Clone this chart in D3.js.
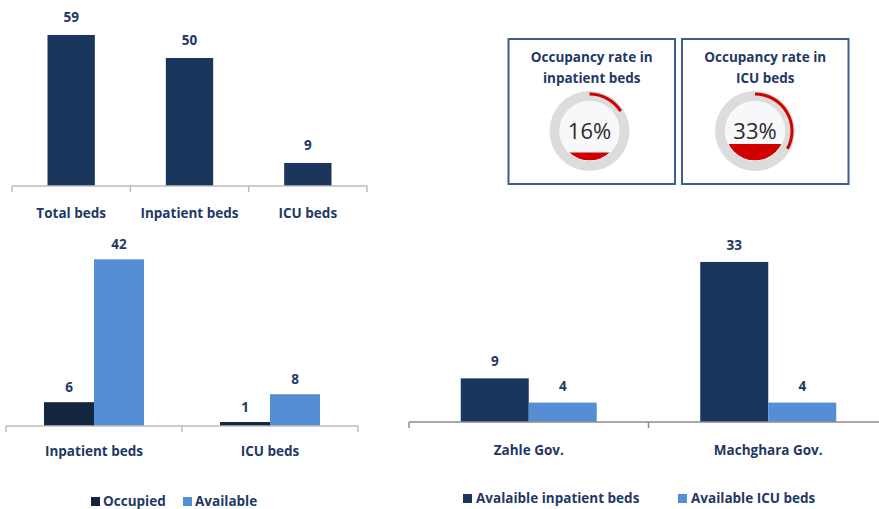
<!DOCTYPE html>
<html lang="en">
<head>
<meta charset="utf-8">
<title>Hospital beds</title>
<style>
  body { margin: 0; background: #fff; }
  text { font-family: "Open Sans", sans-serif; }
</style>
</head>
<body>
<div id="chart"></div>
<script src="https://cdn.jsdelivr.net/npm/d3@7"></script>
<script>
// ---- data ----
var bedCats = ["Total beds", "Inpatient beds", "ICU beds"];
var bedValues = [59, 50, 9];

var occCats = ["Inpatient beds", "ICU beds"];
var occSeries = ["Occupied", "Available"];
var occupiedValues = [6, 1];
var availableValues = [42, 8];

var govCats = ["Zahle Gov.", "Machghara Gov."];
var govSeries = ["Avalaible inpatient beds", "Available ICU beds"];
var govInpatient = [9, 33];
var govICU = [4, 4];

var gaugeTitles = [["Occupancy rate in", "inpatient beds"], ["Occupancy rate in", "ICU beds"]];
var gaugeValues = [16, 33];

// ---- colours ----
var navy = "#1b365d", darkNavy = "#14263f", lightBlue = "#558ed5";
var textCol = "#1f3864", red = "#d10000";
var fs = 13.5;

var svg = d3.select("#chart").append("svg")
  .attr("width", 879).attr("height", 509);

// axis helper: flat line + ticks at band boundaries
function drawAxis(y0, x0, x1, ticks, color) {
  var g = svg.append("g");
  g.append("line").attr("x1", x0).attr("x2", x1).attr("y1", y0).attr("y2", y0)
    .attr("stroke", color).attr("stroke-width", 1.5);
  ticks.forEach(function(t) {
    g.append("line").attr("x1", t).attr("x2", t).attr("y1", y0).attr("y2", y0 + 6)
      .attr("stroke", color).attr("stroke-width", 1.5);
  });
}

// ---- chart 1: totals ----
var x1 = d3.scaleBand().domain(bedCats).range([12, 367]);
var y1 = d3.scaleLinear().domain([0, 60]).range([186, 186 - 153.6]);
var bw1 = x1.bandwidth() * 0.4;

svg.append("g").selectAll("rect").data(bedValues).enter().append("rect")
  .attr("x", function(d, i) { return x1(bedCats[i]) + x1.bandwidth() / 2 - bw1 / 2; })
  .attr("y", function(d) { return y1(d); })
  .attr("width", bw1)
  .attr("height", function(d) { return y1(0) - y1(d); })
  .attr("fill", navy);

svg.append("g").selectAll("text").data(bedValues).enter().append("text")
  .attr("x", function(d, i) { return x1(bedCats[i]) + x1.bandwidth() / 2; })
  .attr("y", function(d) { return y1(d) - 13; })
  .attr("text-anchor", "middle").attr("font-size", fs).attr("font-weight", 700)
  .attr("fill", textCol).text(function(d) { return d; });

drawAxis(186, 12, 367, [12].concat(bedCats.map(function(c) { return x1(c) + x1.bandwidth(); })), "#bcbcbc");

svg.append("g").selectAll("text").data(bedCats).enter().append("text")
  .attr("x", function(d) { return x1(d) + x1.bandwidth() / 2; })
  .attr("y", 217.5)
  .attr("text-anchor", "middle").attr("font-size", fs).attr("font-weight", 700)
  .attr("fill", textCol).text(function(d) { return d; });

// ---- chart 2: occupied vs available ----
var x2 = d3.scaleBand().domain(occCats).range([6, 358]);
var x2s = d3.scaleBand().domain(occSeries).range([0, 100]);
var y2 = d3.scaleLinear().domain([0, 45]).range([426, 426 - 178.6]);
var occColors = [darkNavy, lightBlue];
var occRows = occCats.map(function(c, i) { return [occupiedValues[i], availableValues[i]]; });

var g2 = svg.append("g").selectAll("g").data(occRows).enter().append("g")
  .attr("transform", function(d, i) { return "translate(" + (x2(occCats[i]) + x2.bandwidth() / 2 - 50) + ",0)"; });
g2.selectAll("rect").data(function(d) { return d; }).enter().append("rect")
  .attr("x", function(d, j) { return x2s(occSeries[j]); })
  .attr("y", function(d) { return y2(d); })
  .attr("width", x2s.bandwidth())
  .attr("height", function(d) { return y2(0) - y2(d); })
  .attr("fill", function(d, j) { return occColors[j]; });
g2.selectAll("text").data(function(d) { return d; }).enter().append("text")
  .attr("x", function(d, j) { return x2s(occSeries[j]) + x2s.bandwidth() / 2; })
  .attr("y", function(d) { return y2(d) - 10.5; })
  .attr("text-anchor", "middle").attr("font-size", fs).attr("font-weight", 700)
  .attr("fill", textCol).text(function(d) { return d; });

drawAxis(426, 6, 358, [6, 182, 358], "#bcbcbc");

svg.append("g").selectAll("text").data(occCats).enter().append("text")
  .attr("x", function(d) { return x2(d) + x2.bandwidth() / 2; })
  .attr("y", 456)
  .attr("text-anchor", "middle").attr("font-size", fs).attr("font-weight", 700)
  .attr("fill", textCol).text(function(d) { return d; });

// legend 2
var leg2x = [91, 183];
occSeries.forEach(function(s, i) {
  svg.append("rect").attr("x", leg2x[i]).attr("y", 497).attr("width", 9).attr("height", 9).attr("fill", occColors[i]);
  svg.append("text").attr("x", leg2x[i] + 12).attr("y", 506)
    .attr("font-size", fs).attr("font-weight", 700).attr("fill", textCol).text(s);
});

// ---- chart 3: by governorate ----
var x3 = d3.scaleBand().domain(govCats).range([409, 888]);
var x3s = d3.scaleBand().domain(govSeries).range([0, 136]);
var y3 = d3.scaleLinear().domain([0, 35]).range([422, 422 - 169.75]);
var govColors = [navy, lightBlue];
var govRows = govCats.map(function(c, i) { return [govInpatient[i], govICU[i]]; });

var g3 = svg.append("g").selectAll("g").data(govRows).enter().append("g")
  .attr("transform", function(d, i) { return "translate(" + (x3(govCats[i]) + x3.bandwidth() / 2 - 68) + ",0)"; });
g3.selectAll("rect").data(function(d) { return d; }).enter().append("rect")
  .attr("x", function(d, j) { return x3s(govSeries[j]); })
  .attr("y", function(d) { return y3(d); })
  .attr("width", x3s.bandwidth())
  .attr("height", function(d) { return y3(0) - y3(d); })
  .attr("fill", function(d, j) { return govColors[j]; });
g3.selectAll("text").data(function(d) { return d; }).enter().append("text")
  .attr("x", function(d, j) { return x3s(govSeries[j]) + x3s.bandwidth() / 2; })
  .attr("y", function(d) { return y3(d) - 12; })
  .attr("text-anchor", "middle").attr("font-size", fs).attr("font-weight", 700)
  .attr("fill", textCol).text(function(d) { return d; });

drawAxis(422, 409, 879, [409, 648.5], "#8c8c8c");

svg.append("g").selectAll("text").data(govCats).enter().append("text")
  .attr("x", function(d) { return x3(d) + x3.bandwidth() / 2; })
  .attr("y", 454.5)
  .attr("text-anchor", "middle").attr("font-size", fs).attr("font-weight", 700)
  .attr("fill", textCol).text(function(d) { return d; });

var leg3x = [463, 678];
govSeries.forEach(function(s, i) {
  svg.append("rect").attr("x", leg3x[i]).attr("y", 494).attr("width", 9).attr("height", 9).attr("fill", govColors[i]);
  svg.append("text").attr("x", leg3x[i] + 13).attr("y", 503)
    .attr("font-size", fs).attr("font-weight", 700).attr("fill", textCol).text(s);
});

// ---- gauges ----
var boxes = [{x: 508.5, cx: 589.5}, {x: 682, cx: 755}];
var level = d3.scaleLinear().domain([0, 100]).range([0, 50]);
var ringArc = d3.arc().innerRadius(30).outerRadius(40).startAngle(0).endAngle(2 * Math.PI);
var redArc = d3.arc().innerRadius(35.5).outerRadius(38.5).startAngle(0);

gaugeValues.forEach(function(v, i) {
  var b = boxes[i];
  svg.append("rect").attr("x", b.x).attr("y", 39).attr("width", 166.5).attr("height", 145)
    .attr("fill", "#fff").attr("stroke", "#3d5f8f").attr("stroke-width", 2);
  gaugeTitles[i].forEach(function(line, k) {
    svg.append("text").attr("x", b.x + 83.25).attr("y", 61.5 + k * 21)
      .attr("text-anchor", "middle").attr("font-size", fs).attr("font-weight", 700)
      .attr("fill", textCol).text(line);
  });
  var cy = 131;
  var g = svg.append("g").attr("transform", "translate(" + b.cx + "," + cy + ")");
  g.append("path").attr("d", ringArc()).attr("fill", "#dcdcdc");
  g.append("circle").attr("r", 30).attr("fill", "#f7f8fa");
  var cid = "clip" + i;
  g.append("clipPath").attr("id", cid).append("circle").attr("r", 29.5);
  g.append("rect").attr("x", -30).attr("y", 29.5 - level(v)).attr("width", 60).attr("height", level(v))
    .attr("clip-path", "url(#" + cid + ")").attr("fill", red);
  g.append("path").attr("d", redArc.endAngle(2 * Math.PI * v / 100)()).attr("fill", red);
  g.append("text").attr("y", 8).attr("text-anchor", "middle").attr("font-size", 22)
    .attr("fill", "#2b2b2b").text(v + "%");
});
</script>
</body>
</html>
